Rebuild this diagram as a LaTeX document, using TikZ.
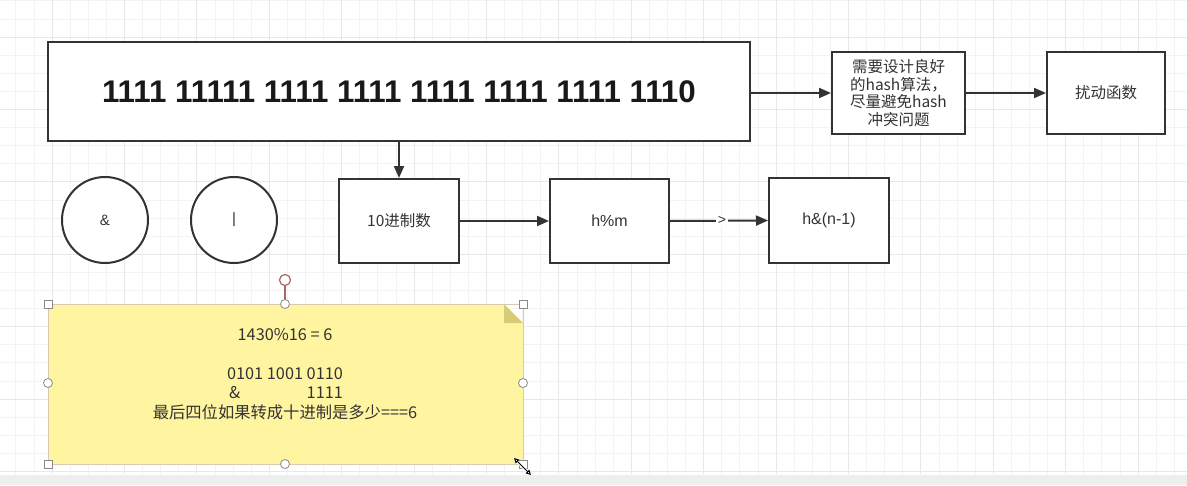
\documentclass[tikz,border=0pt]{standalone}
\usepackage{fontspec}
\setmainfont{Liberation Sans}
\newfontfamily\cjk{Noto Sans CJK SC}
\usetikzlibrary{arrows.meta}
\definecolor{minorgrid}{HTML}{F3F3F3}
\definecolor{majorgrid}{HTML}{E8E8E8}
\definecolor{boxline}{HTML}{333333}
\definecolor{txt}{HTML}{333333}
\definecolor{notefill}{HTML}{FFF4A0}
\definecolor{notefold}{HTML}{D6CC78}
\definecolor{noteline}{HTML}{D9C9B0}
\definecolor{handle}{HTML}{8A8A8A}
\definecolor{rothandle}{HTML}{A86565}
\definecolor{strip}{HTML}{EEEEEE}
\tikzset{
  boxnode/.style={draw=boxline, line width=2pt, fill=white, inner sep=0pt, text=txt, font=\cjk\fontsize{15.5}{17.5}\selectfont, align=center},
  circnode/.style={draw=boxline, line width=2pt, fill=white, circle, inner sep=0pt, minimum size=86pt, text=txt, font=\fontsize{15}{17}\selectfont},
  arr/.style={draw=boxline, line width=2pt, -{Triangle[length=12pt,width=10pt]}},
  sqhandle/.style={draw=handle, fill=white, line width=0.8pt, minimum size=8pt, inner sep=0pt, rectangle},
  cihandle/.style={draw=handle, fill=white, line width=0.8pt, minimum size=9pt, inner sep=0pt, circle},
}
\begin{document}
\begin{tikzpicture}[x=1pt,y=-1pt]
\useasboundingbox (0,0) rectangle (1187,485);
\fill[white] (0,0) rectangle (1187,485);
% grid
\foreach \i in {0,...,66} {\draw[minorgrid, line width=0.8pt] ({-2.3+18.1*\i},0) -- ({-2.3+18.1*\i},474);}
\foreach \j in {0,...,26} {\draw[minorgrid, line width=0.8pt] (0,{0.8+18.1*\j}) -- (1187,{0.8+18.1*\j});}
\foreach \i in {0,...,17} {\draw[majorgrid, line width=0.9pt] ({-20.4+72.4*\i},0) -- ({-20.4+72.4*\i},474);}
\foreach \j in {0,...,6} {\draw[majorgrid, line width=0.9pt] (0,{37+72.4*\j}) -- (1187,{37+72.4*\j});}
\fill[strip] (0,475) rectangle (1187,485);

% boxes
\node[boxnode, minimum width=702pt, minimum height=99pt, font=\bfseries\fontsize{31.3}{35}\selectfont, text=black!90] (big) at (399,91.5) {1111 11111 1111 1111 1111 1111 1111 1110};
\node[boxnode, minimum width=133pt, minimum height=82pt] (need) at (898.5,93) {需要设计良好\\的hash算法，\\尽量避免hash\\冲突问题};
\node[boxnode, minimum width=118pt, minimum height=82pt] (rao) at (1106,93) {扰动函数};
\node[boxnode, minimum width=120pt, minimum height=84pt] (dec) at (399,221) {10进制数};
\node[boxnode, minimum width=119pt, minimum height=84pt, font=\fontsize{16}{18}\selectfont] (hm) at (609.5,221) {h\%m};
\node[boxnode, minimum width=120pt, minimum height=85pt, font=\fontsize{16}{18}\selectfont] (hn) at (829,220.5) {h\&(n-1)};
\node[circnode] (amp) at (105,220) {\&};
\node[circnode] (bar) at (234,220) {|};

% connectors
\draw[arr] (big.east |- need.west) -- (need.west);
\draw[arr] (need.east) -- (rao.west);
\draw[arr] (big.south) -- (dec.north);
\draw[arr] (dec.east) -- (hm.west);
\draw[arr] (hm.east) -- node[pos=0.53, fill=white, inner sep=1.5pt, text=txt, font=\fontsize{14}{16}\selectfont] (gt) {>} (hn.west);

% note
\fill[notefill] (48,304) -- (504,304) -- (523,323) -- (523,464) -- (48,464) -- cycle;
\fill[notefold] (504,304) -- (504,323) -- (523,323) -- cycle;
\draw[noteline, line width=0.8pt] (48,304) rectangle (523,464);
\node[text=txt, align=center, font=\cjk\fontsize{16.3}{19.5}\selectfont] (notetext) at (285,374) {1430\%16 = 6\\[19.5pt]0101 1001 0110\\\setbox0\hbox{0101 1001 0110}\hbox to \wd0{\hspace{2pt}\&\hfill 1111}\\最后四位如果转成十进制是多少===6};

% selection handles
\draw[rothandle, line width=1.2pt] (285,286) -- (285,300);
\node[draw=rothandle, fill=white, line width=1.2pt, circle, minimum size=11pt, inner sep=0pt] (rot) at (285,280) {};
\node[sqhandle] (h1) at (48,304) {};
\node[sqhandle] (h2) at (523,304) {};
\node[sqhandle] (h3) at (48,464) {};
\node[sqhandle] (h4) at (523,464) {};
\node[cihandle] (c1) at (285,304) {};
\node[cihandle] (c2) at (48,383) {};
\node[cihandle] (c3) at (523,383) {};
\node[cihandle] (c4) at (285,464) {};
% resize cursor
\draw[white, line width=3pt] (515,459) -- (529,473);
\draw[black, line width=1pt, {Triangle[length=5pt,width=5pt,open]}-{Triangle[length=5pt,width=5pt,open]}] (514,458) -- (531,475);
\end{tikzpicture}
\end{document}
